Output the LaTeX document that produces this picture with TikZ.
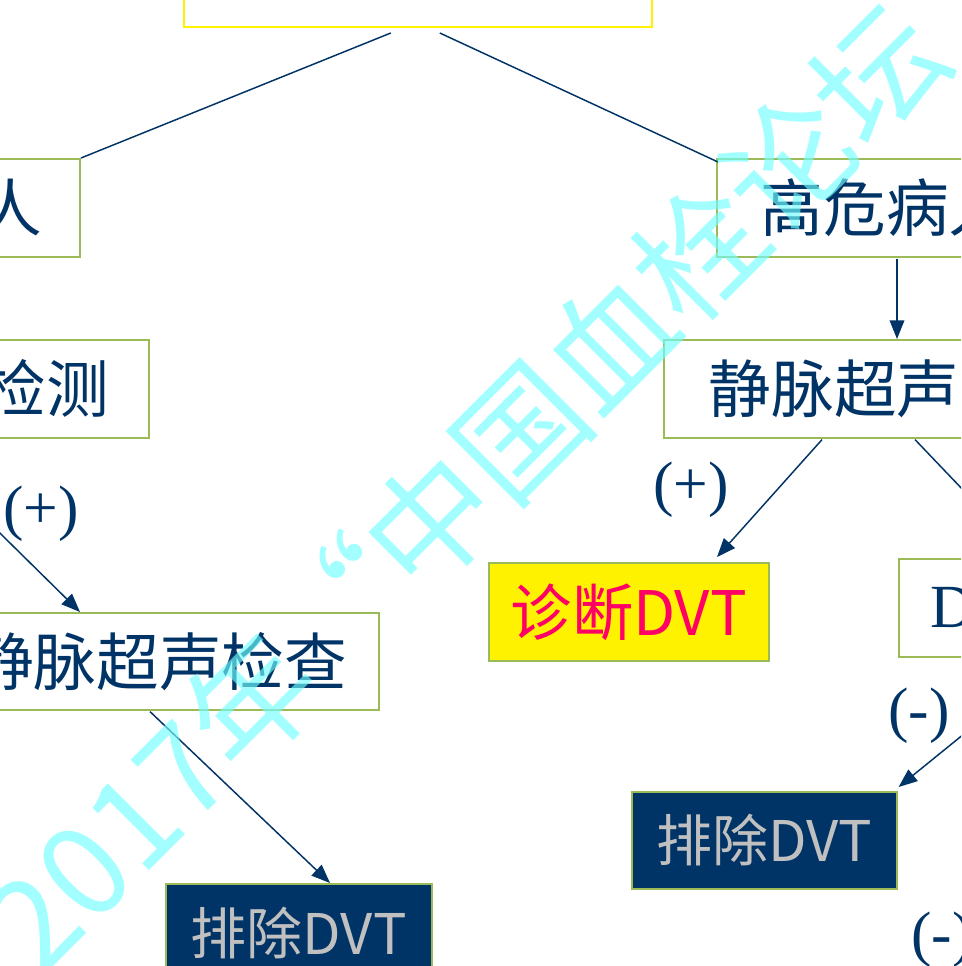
\documentclass[tikz,border=0pt]{standalone}
\usepackage{fontspec}
\setmainfont{Liberation Serif}
\newfontfamily\cjk{Noto Sans CJK SC}
\usetikzlibrary{calc,arrows.meta}
\definecolor{navy}{HTML}{003366}
\definecolor{boxgreen}{HTML}{9BBB59}
\definecolor{mag}{HTML}{FF0066}
\definecolor{gry}{HTML}{C0C0C0}
\definecolor{wmcyan}{RGB}{115,255,255}
\begin{document}
\begin{tikzpicture}[x=0.75pt,y=-0.75pt,
  box/.style={draw=boxgreen, line width=1.2pt, fill=white, inner sep=0pt, minimum height=73.5pt},
  cjkt/.style={font=\cjk\fontsize{47pt}{50pt}\selectfont, text=navy},
  outbox/.style={box, fill=navy, font=\cjk\fontsize{42pt}{45pt}\selectfont, text=gry},
  lbl/.style={font=\fontsize{46pt}{48pt}\selectfont, text=navy, inner sep=0pt},
  conn/.style={draw=navy, line width=1.1pt},
  arr/.style={conn, -{Triangle[length=14pt,width=11pt]}},
  wm/.style={font=\cjk\fontsize{95pt}{95pt}\selectfont, text=wmcyan, text opacity=0.65, inner sep=0pt}]
\useasboundingbox (0,0) rectangle (961,966);
\clip (0,0) rectangle (961,966);
\fill[white] (0,0) rectangle (961,966);

% boxes
\node[box, draw=yellow, anchor=south west, minimum width=351pt] (top) at (183,28) {};
\node[box, cjkt, anchor=north east, inner xsep=28.5pt] (lowrisk) at (81,158) {人};
\node[box, cjkt, anchor=north east, inner xsep=30pt] (detect) at (150,339) {检测};
\node[box, cjkt, anchor=north east, inner xsep=24pt, minimum height=72.75pt] (lus) at (380,612) {静脉超声检查};
\node[outbox, anchor=north west, minimum width=199.5pt] (lex) at (165,883) {排除DVT};
\node[box, cjkt, anchor=north west, inner xsep=33pt] (high) at (716,158) {高危病人};
\node[box, cjkt, anchor=north west, inner xsep=33.75pt] (rus) at (663,339) {静脉超声};
\node[box, fill=yellow, anchor=north west, minimum width=210pt, font=\cjk\fontsize{46pt}{48pt}\selectfont, text=mag] (diag) at (488,562) {诊断DVT\hspace{15pt}};
\node[box, anchor=north west, inner xsep=24pt, font=\fontsize{46pt}{48pt}\selectfont, text=navy] (dbox) at (898,558) {D};
\node[outbox, anchor=north west, minimum width=198.75pt, minimum height=72.75pt] (rex) at (631,791) {排除DVT};

% connectors
\draw[conn] ($(top.south)+(-27,5)$) -- (lowrisk.north east);
\draw[conn] ($(top.south)+(22,5)$) -- ($(high.north west)+(2,4)$);
\draw[arr] ($(high.south west)+(181,1)$) -- ($(rus.north west)+(234,0)$);
\draw[arr] ($(detect.south east)+(-246,0)$) -- ($(lus.north east)+(-300,0)$);
\draw[arr] ($(lus.south east)+(-230,1)$) -- ($(lex.north west)+(165,0)$);
\draw[arr] ($(rus.south west)+(159,1)$) -- ($(diag.north west)+(229,-5)$);
\draw[arr] ($(rus.south west)+(252,1)$) -- ($(dbox.north west)+(130,0)$);
\draw[arr] ($(dbox.south west)+(160,0)$) -- ($(rex.north east)+(1,-4)$);

% labels
\node[lbl] (p1) at (41,514) {(+)};
\node[lbl] (p2) at (691,490) {(+)};
\node[lbl] (m1) at (919,716) {(-)};
\node[lbl] (m2) at (942,940) {(-)};

% watermark
\node[wm, rotate=45] (wmark) at (465,486) {2017年“中国血栓论坛};
\end{tikzpicture}
\end{document}
